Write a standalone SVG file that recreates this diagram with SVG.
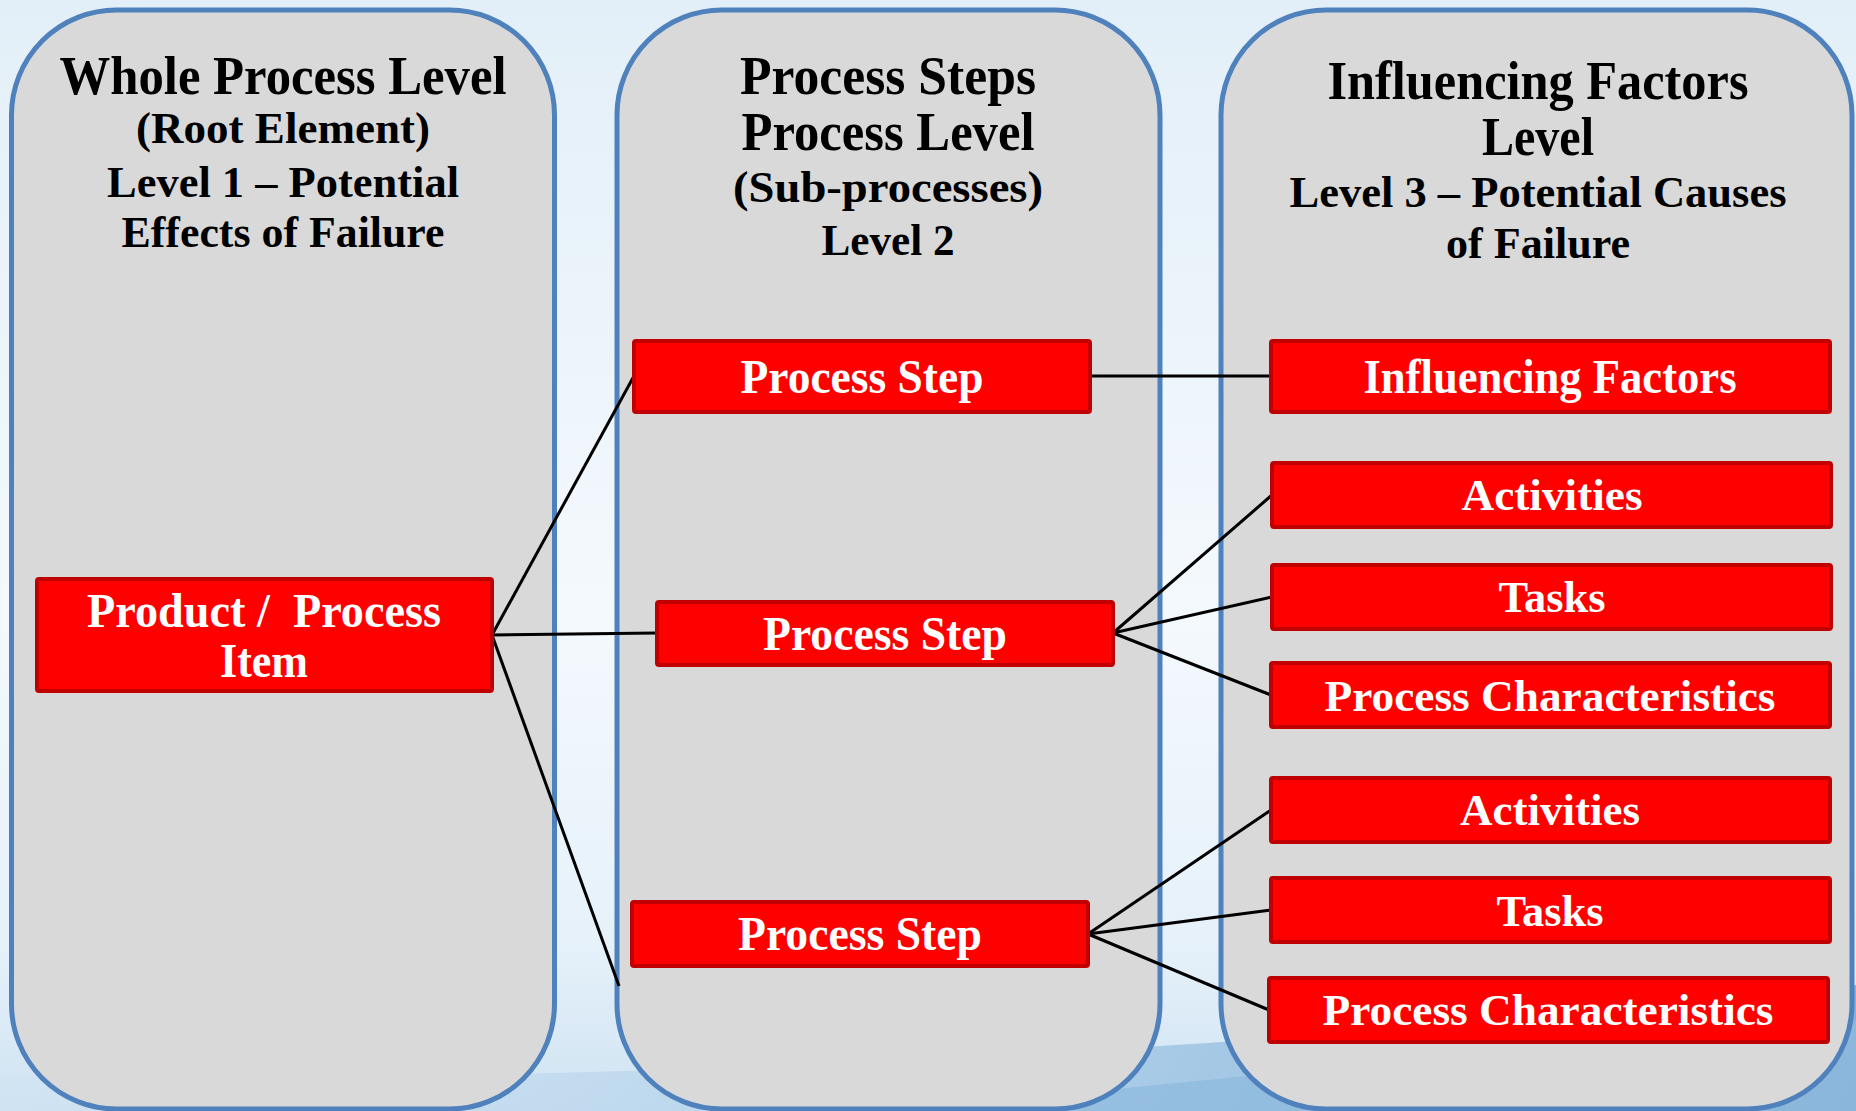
<svg xmlns="http://www.w3.org/2000/svg" width="1856" height="1111" viewBox="0 0 1856 1111">
  <defs>
    <linearGradient id="bg" x1="0" y1="0" x2="0" y2="1">
      <stop offset="0" stop-color="#e3eff8"/>
      <stop offset="0.55" stop-color="#f4f9fd"/>
      <stop offset="0.85" stop-color="#e6f1fa"/>
      <stop offset="1" stop-color="#cfe3f2"/>
    </linearGradient>
    <linearGradient id="sw" x1="0" y1="0" x2="1" y2="0">
      <stop offset="0" stop-color="#cfe2f2" stop-opacity="0.4"/>
      <stop offset="0.6" stop-color="#9fc5e4"/>
      <stop offset="1" stop-color="#6fa3cf"/>
    </linearGradient>
    <style>
      .panel { fill: #d9d9d9; stroke: #4f81bd; stroke-width: 5; }
      .box { fill: #ff0000; stroke: #c00000; stroke-width: 4; }
      .title { font-family: "Liberation Serif", "DejaVu Serif", serif; font-weight: bold; fill: #000; text-anchor: middle; }
      .t1 { font-size: 54px; }
      .t2 { font-size: 44px; }
      .lbl { font-family: "Liberation Serif", "DejaVu Serif", serif; font-weight: bold; fill: #fff; text-anchor: middle; font-size: 48px; }
      .lbl3 { font-size: 44px; }
      .conn line { stroke: #000; stroke-width: 3; fill: none; }
    </style>
  </defs>

  <rect x="0" y="0" width="1856" height="1111" fill="url(#bg)"/>
  <path d="M0 1111 L0 1075 C500 1085 1200 1060 1856 985 L1856 1111 Z" fill="url(#sw)" opacity="0.8"/>
  <path d="M900 1111 C1200 1080 1500 1050 1856 1020 L1856 1111 Z" fill="#8db9dd" opacity="0.7"/>

  <g id="panel-level1">
    <rect class="panel" x="11.5" y="10" width="543" height="1099" rx="105" ry="105"/>
    <text class="title t1" x="283" y="93.5" textLength="447" lengthAdjust="spacingAndGlyphs">Whole Process Level</text>
    <text class="title t2" x="283" y="143" textLength="294" lengthAdjust="spacingAndGlyphs">(Root Element)</text>
    <text class="title t2" x="283" y="196.5" textLength="352" lengthAdjust="spacingAndGlyphs">Level 1 – Potential</text>
    <text class="title t2" x="283" y="247" textLength="323" lengthAdjust="spacingAndGlyphs">Effects of Failure</text>
  </g>

  <g id="panel-level2">
    <rect class="panel" x="617" y="10" width="543" height="1099" rx="105" ry="105"/>
    <text class="title t1" x="888" y="93.5" textLength="296" lengthAdjust="spacingAndGlyphs">Process Steps</text>
    <text class="title t1" x="888" y="150" textLength="293" lengthAdjust="spacingAndGlyphs">Process Level</text>
    <text class="title t2" x="888" y="202" textLength="310" lengthAdjust="spacingAndGlyphs">(Sub-processes)</text>
    <text class="title t2" x="888" y="254.5" textLength="133" lengthAdjust="spacingAndGlyphs">Level 2</text>
  </g>

  <g id="panel-level3">
    <rect class="panel" x="1221" y="10" width="631" height="1099" rx="105" ry="105"/>
    <text class="title t1" x="1538" y="99" textLength="421" lengthAdjust="spacingAndGlyphs">Influencing Factors</text>
    <text class="title t1" x="1538" y="155" textLength="112" lengthAdjust="spacingAndGlyphs">Level</text>
    <text class="title t2" x="1538" y="207" textLength="497" lengthAdjust="spacingAndGlyphs">Level 3 – Potential Causes</text>
    <text class="title t2" x="1538" y="258" textLength="184" lengthAdjust="spacingAndGlyphs">of Failure</text>
  </g>

  <g id="connectors" class="conn">
    <line x1="492" y1="635" x2="634" y2="376"/>
    <line x1="492" y1="635" x2="657" y2="633"/>
    <line x1="492" y1="635" x2="619" y2="986"/>
    <line x1="1090" y1="376" x2="1271" y2="376"/>
    <line x1="1113" y1="633" x2="1272" y2="495"/>
    <line x1="1113" y1="633" x2="1272" y2="597"/>
    <line x1="1113" y1="633" x2="1271" y2="695"/>
    <line x1="1088" y1="934" x2="1271" y2="810"/>
    <line x1="1088" y1="934" x2="1271" y2="910"/>
    <line x1="1088" y1="934" x2="1269" y2="1010"/>
  </g>

  <g id="node-product">
    <rect class="box" x="37" y="579" width="455" height="112" rx="2"/>
    <text class="lbl" x="264" y="627" textLength="354" lengthAdjust="spacingAndGlyphs">Product /&#160; Process</text>
    <text class="lbl" x="264" y="677" textLength="88" lengthAdjust="spacingAndGlyphs">Item</text>
  </g>

  <g id="node-step1">
    <rect class="box" x="634" y="341" width="456" height="71" rx="2"/>
    <text class="lbl" x="862" y="393" textLength="243" lengthAdjust="spacingAndGlyphs">Process Step</text>
  </g>
  <g id="node-step2">
    <rect class="box" x="657" y="602" width="456" height="63" rx="2"/>
    <text class="lbl" x="885" y="650" textLength="244" lengthAdjust="spacingAndGlyphs">Process Step</text>
  </g>
  <g id="node-step3">
    <rect class="box" x="632" y="902" width="456" height="64" rx="2"/>
    <text class="lbl" x="860" y="950" textLength="244" lengthAdjust="spacingAndGlyphs">Process Step</text>
  </g>

  <g id="node-influencing">
    <rect class="box" x="1271" y="341" width="559" height="71" rx="2"/>
    <text class="lbl" x="1550" y="393" textLength="373" lengthAdjust="spacingAndGlyphs">Influencing Factors</text>
  </g>
  <g id="node-activities1">
    <rect class="box" x="1272" y="463" width="559" height="64" rx="2"/>
    <text class="lbl lbl3" x="1552" y="510" textLength="181" lengthAdjust="spacingAndGlyphs">Activities</text>
  </g>
  <g id="node-tasks1">
    <rect class="box" x="1272" y="565" width="559" height="64" rx="2"/>
    <text class="lbl lbl3" x="1552" y="612" textLength="107" lengthAdjust="spacingAndGlyphs">Tasks</text>
  </g>
  <g id="node-characteristics1">
    <rect class="box" x="1271" y="663" width="559" height="64" rx="2"/>
    <text class="lbl lbl3" x="1550" y="711" textLength="451" lengthAdjust="spacingAndGlyphs">Process Characteristics</text>
  </g>
  <g id="node-activities2">
    <rect class="box" x="1271" y="778" width="559" height="64" rx="2"/>
    <text class="lbl lbl3" x="1550" y="825" textLength="180" lengthAdjust="spacingAndGlyphs">Activities</text>
  </g>
  <g id="node-tasks2">
    <rect class="box" x="1271" y="878" width="559" height="64" rx="2"/>
    <text class="lbl lbl3" x="1550" y="926" textLength="107" lengthAdjust="spacingAndGlyphs">Tasks</text>
  </g>
  <g id="node-characteristics2">
    <rect class="box" x="1269" y="978" width="559" height="64" rx="2"/>
    <text class="lbl lbl3" x="1548" y="1025" textLength="451" lengthAdjust="spacingAndGlyphs">Process Characteristics</text>
  </g>
</svg>
